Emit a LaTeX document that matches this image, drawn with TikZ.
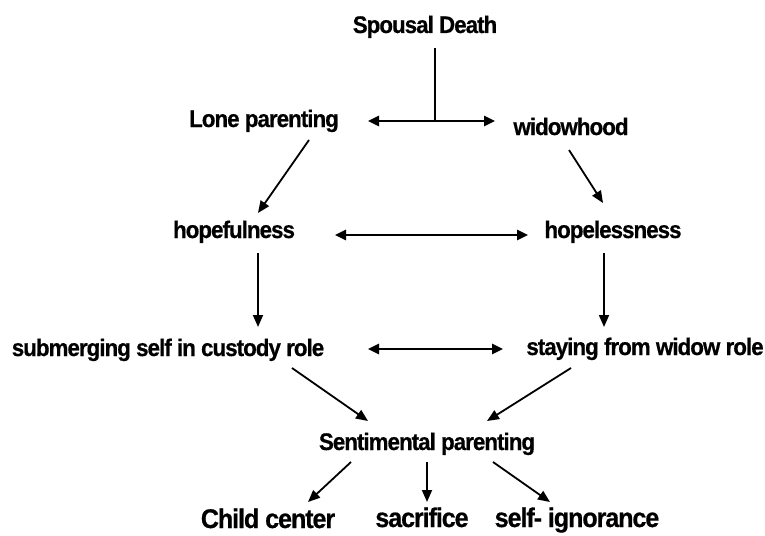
\documentclass[tikz,border=0pt]{standalone}
\usepackage{fontspec}
\setmainfont{Liberation Sans}[FakeStretch=0.93,LetterSpace=-4,BoldFeatures={FakeBold=0.6}]
\usetikzlibrary{arrows.meta}
\begin{document}
\begin{tikzpicture}[x=1pt,y=-1pt,
  lbl/.style={inner sep=0pt,anchor=base,font=\fontsize{24}{26}\selectfont\bfseries,text height=17.5pt,text depth=5.5pt},
  biglbl/.style={inner sep=0pt,anchor=base,font=\fontsize{27}{29}\selectfont\bfseries,text height=19.5pt,text depth=6pt},
  arr/.style={line width=1.8pt,-{Triangle[length=12pt,width=10pt]}},
  dbl/.style={line width=2.5pt,{Triangle[length=11pt,width=10pt]}-{Triangle[length=11pt,width=10pt]}},
  plain/.style={line width=1.5pt}]
\useasboundingbox[fill=white] (0,0) rectangle (765,535);
\node[lbl] (sd) at (425,33) {Spousal Death};
\node[lbl] (lone) at (264,127) {Lone parenting};
\node[lbl] (widow) at (571,135) {widowhood};
\node[lbl] (hopeful) at (234,238) {hopefulness};
\node[lbl] (hopeless) at (613,238) {hopelessness};
\node[lbl] (sub) at (168,356) {submerging self in custody role};
\node[lbl] (stay) at (645,355) {staying from widow role};
\node[lbl] (sent) at (427,450) {Sentimental parenting};
\node[biglbl] (child) at (268,528) {Child center};
\node[biglbl] (sac) at (422,527) {sacrifice};
\node[biglbl] (selfig) at (577,527) {self- ignorance};
\coordinate (split) at (435,121);
\draw[plain] ([shift={(10,15)}]sd.base) -- (split);
\draw[dbl] ([shift={(104,-6)}]lone.base) -- ([shift={(-76,-14)}]widow.base);
\draw[arr] ([shift={(45,13)}]lone.base) -- ([shift={(24,-25)}]hopeful.base);
\draw[arr] ([shift={(-2,15)}]widow.base) -- ([shift={(-10,-35)}]hopeless.base);
\draw[dbl] ([shift={(101,-3)}]hopeful.base) -- ([shift={(-85,-3)}]hopeless.base);
\draw[arr] ([shift={(24,15)}]hopeful.base) -- ([shift={(90,-29)}]sub.base);
\draw[arr] ([shift={(-9,15)}]hopeless.base) -- ([shift={(-41,-28)}]stay.base);
\draw[dbl] ([shift={(200,-7)}]sub.base) -- ([shift={(-142,-6)}]stay.base);
\draw[arr] ([shift={(124,12)}]sub.base) -- ([shift={(-59,-29)}]sent.base);
\draw[arr] ([shift={(-74,13)}]stay.base) -- ([shift={(60,-29)}]sent.base);
\draw[arr] ([shift={(-76,12)}]sent.base) -- ([shift={(40,-26)}]child.base);
\draw[arr] ([shift={(0,12)}]sent.base) -- ([shift={(5,-25)}]sac.base);
\draw[arr] ([shift={(66,12)}]sent.base) -- ([shift={(-27,-25)}]selfig.base);
\end{tikzpicture}
\end{document}
